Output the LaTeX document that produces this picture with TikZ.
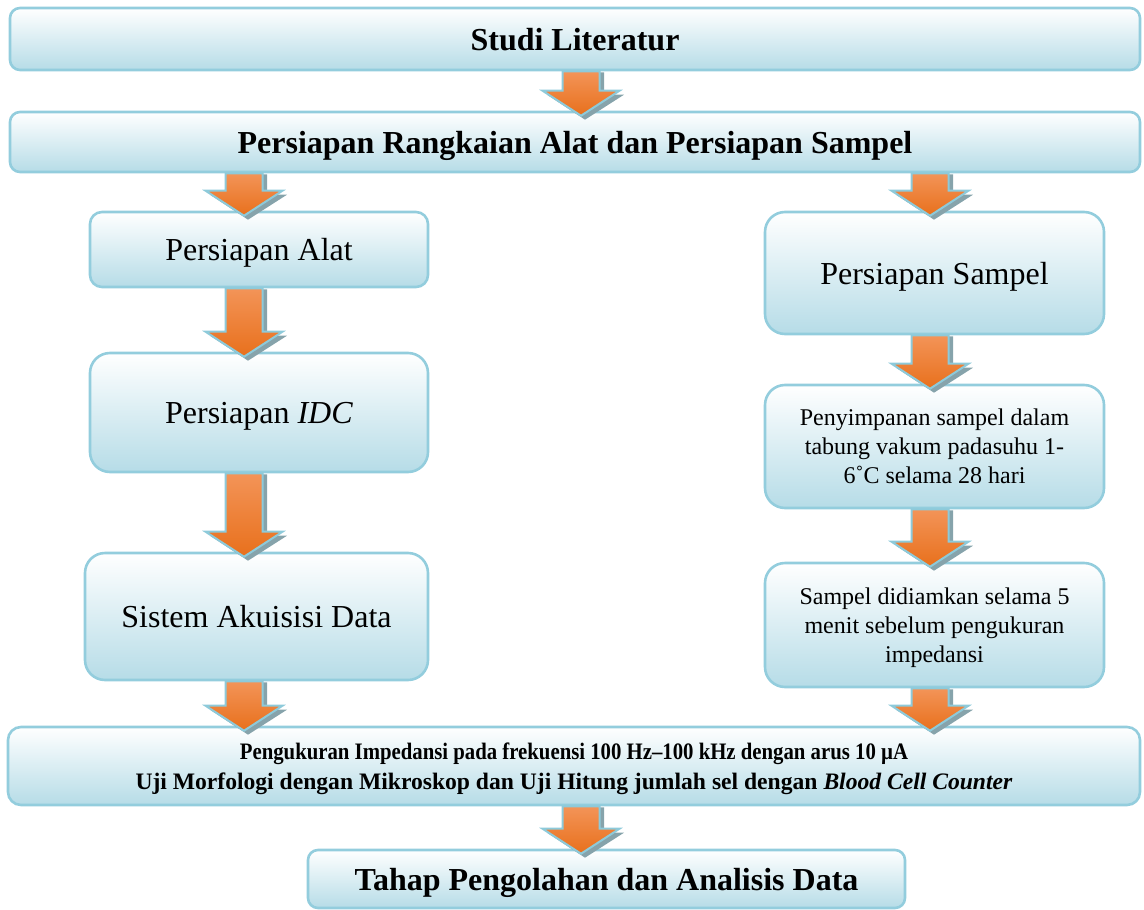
\documentclass[tikz,border=0pt]{standalone}
\usepackage{fontspec}
\setmainfont{Liberation Serif}
\newfontfamily\narrowserif[FakeStretch=0.88]{Liberation Serif}
\usetikzlibrary{calc}

\definecolor{boxline}{HTML}{93CDDD}
\definecolor{boxfill}{HTML}{B6DCE7}
\definecolor{arrowtop}{HTML}{F39458}
\definecolor{arrowbot}{HTML}{E8701C}
\definecolor{arrowrim}{HTML}{8DCADA}
\definecolor{arrowgray}{HTML}{86A3AB}

% block arrow from the bottom of #2 to the top of #3, at the x of #1
\newcommand{\flowarrow}[3]{%
  \fill[arrowshade] let \p1=(#2.south -| #1), \p2=(#3.north -| #1) in
    (\x1-7pt,\y1-0.5pt) -- (\x1+11.5pt,\y1-0.5pt) -- (\x1+11.5pt,\y2+8pt) -- (\x1+21.5pt,\y2+8pt)
    -- (\x1+2pt,\y2-4.5pt) -- (\x1-17pt,\y2+8pt) -- (\x1-7pt,\y2+8pt) -- cycle;
  \draw[arrowbody] let \p1=(#2.south -| #1), \p2=(#3.north -| #1) in
    (\x1-9.25pt,\y1) -- (\x1+9.25pt,\y1) -- (\x1+9.25pt,\y2+10pt) -- (\x1+19.25pt,\y2+10pt)
    -- (\x1,\y2-2.5pt) -- (\x1-19.25pt,\y2+10pt) -- (\x1-9.25pt,\y2+10pt) -- cycle;
}

\begin{document}
\begin{tikzpicture}[
    x=0.5pt, y=-0.5pt,
    box/.style = {draw=boxline, line width=1.3pt, top color=white, bottom color=boxfill,
                  shading angle=0, align=center, inner sep=0pt, text depth=0pt},
    headbox/.style = {box, font=\bfseries\fontsize{16}{19}\selectfont},
    plainbox/.style = {box, font=\fontsize{16}{19}\selectfont},
    smallbox/.style = {box, font=\fontsize{12}{14.5}\selectfont},
    arrowbody/.style = {draw=arrowrim, line width=1pt, line join=miter, top color=arrowtop, bottom color=arrowbot},
    arrowshade/.style = {fill=arrowgray}
    ]
    \useasboundingbox (0,0) rectangle (1144,909);

    % Columns of the arrows
    \coordinate (col left)  at (244,0);
    \coordinate (col mid)   at (581,0);
    \coordinate (col right) at (930,0);

    % Full width steps
    \node[headbox, rounded corners=5pt, minimum width=565pt, minimum height=31pt] (box studi) at (575,39) {Studi Literatur};
    \node[headbox, rounded corners=5pt, minimum width=565pt, minimum height=30pt] (box rangkaian) at (575,142)
        {Persiapan Rangkaian Alat dan Persiapan Sampel};

    % Left column
    \node[plainbox, rounded corners=6pt, minimum width=169pt, minimum height=37.5pt] (box alat) at (259,249.5) {Persiapan Alat};
    \node[plainbox, rounded corners=10pt, minimum width=169pt, minimum height=59.5pt] (box idc) at (259,412.5) {Persiapan \textit{IDC}};
    \node[plainbox, rounded corners=10pt, minimum width=171.5pt, minimum height=63.5pt] (box sistem) at (256.5,616.5) {Sistem Akuisisi Data};

    % Right column
    \node[plainbox, rounded corners=10pt, minimum width=169.5pt, minimum height=61pt] (box sampel) at (934.5,273) {Persiapan Sampel};
    \node[smallbox, rounded corners=10pt, minimum width=169.5pt, minimum height=61.5pt] (box simpan) at (934.5,446.5)
        {Penyimpanan sampel dalam\\tabung vakum padasuhu 1-\\6˚C selama 28 hari};
    \node[smallbox, rounded corners=10pt, minimum width=169.5pt, minimum height=62pt] (box diam) at (934.5,625)
        {Sampel didiamkan selama 5\\menit sebelum pengukuran\\impedansi};

    % Measurement and analysis
    \node[box, rounded corners=6.5pt, minimum width=566pt, minimum height=39pt,
          font=\bfseries\fontsize{11.8}{15}\selectfont] (box ukur) at (574,766)
        {{\narrowserif\bfseries Pengukuran Impedansi pada frekuensi 100 Hz–100 kHz dengan arus 10 µA}\\
         Uji Morfologi dengan Mikroskop dan Uji Hitung jumlah sel dengan \textit{Blood Cell Counter}};
    \node[headbox, rounded corners=5pt, minimum width=298.5pt, minimum height=29pt] (box tahap) at (606.5,879)
        {Tahap Pengolahan dan Analisis Data};

    % Arrows
    \flowarrow{col mid}{box studi}{box rangkaian}
    \flowarrow{col left}{box rangkaian}{box alat}
    \flowarrow{col right}{box rangkaian}{box sampel}
    \flowarrow{col left}{box alat}{box idc}
    \flowarrow{col left}{box idc}{box sistem}
    \flowarrow{col left}{box sistem}{box ukur}
    \flowarrow{col right}{box sampel}{box simpan}
    \flowarrow{col right}{box simpan}{box diam}
    \flowarrow{col right}{box diam}{box ukur}
    \flowarrow{col mid}{box ukur}{box tahap}
\end{tikzpicture}
\end{document}
